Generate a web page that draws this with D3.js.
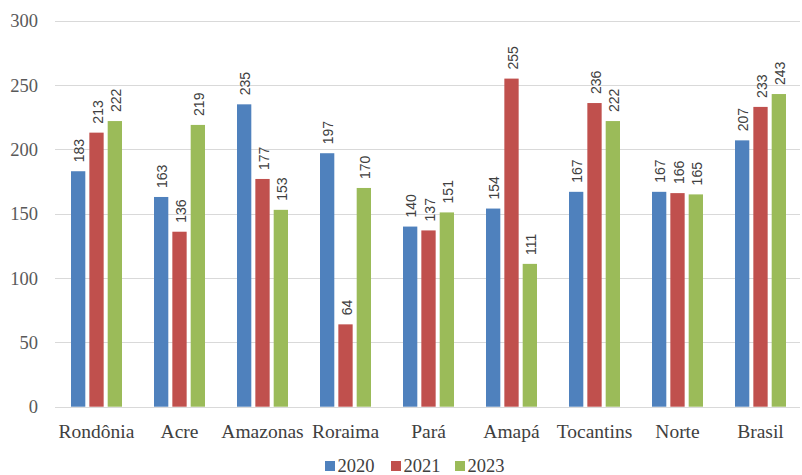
<!DOCTYPE html>
<html>
<head>
<meta charset="utf-8">
<script src="https://cdn.jsdelivr.net/npm/d3@7"></script>
<style>
  html, body { margin: 0; padding: 0; background: #fff; }
  svg { display: block; }
</style>
</head>
<body>
<svg id="chart" width="802" height="475"></svg>
<script>
// Regions of the North and the national total
const categories = ["Rondônia", "Acre", "Amazonas", "Roraima", "Pará", "Amapá", "Tocantins", "Norte", "Brasil"];
const seriesNames = ["2020", "2021", "2023"];
const values2020 = [183, 163, 235, 197, 140, 154, 167, 167, 207];
const values2021 = [213, 136, 177, 64, 137, 255, 236, 166, 233];
const values2023 = [222, 219, 153, 170, 151, 111, 222, 165, 243];
const yTicks = [0, 50, 100, 150, 200, 250, 300];
const colors = ["#4F81BD", "#C0504D", "#9BBB59"];

const SERIF = '"Liberation Serif"';
const SANS = '"Liberation Sans"';

const seriesValues = [values2020, values2021, values2023];
const rows = categories.map((c, i) => ({
  category: c,
  values: seriesNames.map((s, k) => ({ series: s, k, value: seriesValues[k][i] }))
}));

const svg = d3.select("#chart");
const margin = { left: 55, right: 0, top: 20.7, bottom: 68.3 };
const W = 802, H = 475;
const groupW = 51;

const x = d3.scaleBand().domain(categories).range([margin.left, W - margin.right]);
const xs = d3.scaleBand().domain(seriesNames).range([0, groupW]).paddingInner(0.22);
const y = d3.scaleLinear().domain([0, 300]).range([H - margin.bottom, margin.top]);

// horizontal gridlines
svg.append("g")
  .selectAll("line")
  .data(yTicks)
  .join("line")
  .attr("x1", margin.left)
  .attr("x2", W - 2)
  .attr("y1", d => Math.round(y(d)) + 0.5)
  .attr("y2", d => Math.round(y(d)) + 0.5)
  .attr("stroke", "#d9d9d9")
  .attr("stroke-width", 1.2);

// y axis labels
const yAxis = d3.axisLeft(y).tickValues(yTicks).tickSize(0).tickPadding(0);
const yg = svg.append("g").attr("transform", `translate(${margin.left - 17},0)`).call(yAxis);
yg.select(".domain").remove();
yg.selectAll("text")
  .attr("dy", "0.33em")
  .style("font-family", SERIF)
  .style("font-size", "18.5px")
  .attr("fill", "#595959");

// bars
const groups = svg.append("g")
  .selectAll("g")
  .data(rows)
  .join("g")
  .attr("transform", d => `translate(${x(d.category) + (x.bandwidth() - groupW) / 2},0)`);

groups.selectAll("rect")
  .data(d => d.values)
  .join("rect")
  .attr("x", d => xs(d.series))
  .attr("y", d => y(d.value))
  .attr("width", xs.bandwidth())
  .attr("height", d => y(0) - y(d.value))
  .attr("fill", d => colors[d.k]);

// value labels, rotated
groups.selectAll("text")
  .data(d => d.values)
  .join("text")
  .attr("transform", d => `translate(${xs(d.series) + xs.bandwidth() / 2 + 6},${y(d.value) - 9}) rotate(-90)`)
  .attr("text-anchor", "start")
  .style("font-family", SANS)
  .style("font-size", "14px")
  .attr("fill", "#404040")
  .text(d => d.value);

// x axis labels
const xAxis = d3.axisBottom(x).tickSize(0).tickPadding(0);
const xg = svg.append("g").attr("transform", `translate(0,${H - margin.bottom + 31})`).call(xAxis);
xg.select(".domain").remove();
xg.selectAll("text")
  .attr("dy", 0)
  .style("font-family", SERIF)
  .style("font-size", "19.5px")
  .attr("fill", "#404040");

// legend
const legendX = [325, 391, 455];
const legend = svg.append("g")
  .selectAll("g")
  .data(seriesNames)
  .join("g")
  .attr("transform", (d, i) => `translate(${legendX[i]},461)`);
legend.append("rect")
  .attr("width", 10).attr("height", 10)
  .attr("fill", (d, i) => colors[i]);
legend.append("text")
  .attr("x", 12.5).attr("y", 10.5)
  .style("font-family", SERIF)
  .style("font-size", "18.5px")
  .attr("fill", "#404040")
  .text(d => d);
</script>
</body>
</html>
